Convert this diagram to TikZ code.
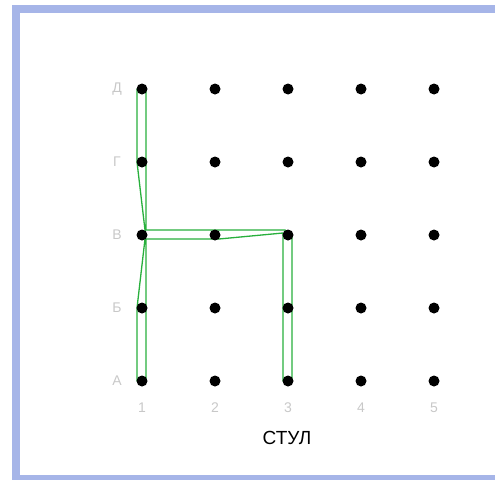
\documentclass[tikz,border=0pt]{standalone}
\usepackage{fontspec}
\setmainfont{Liberation Sans}
\definecolor{framec}{RGB}{166,181,232}
\definecolor{labc}{RGB}{200,200,200}
\definecolor{chairc}{RGB}{40,175,60}
\begin{document}
\begin{tikzpicture}[x=1pt,y=-1pt,
  dotn/.style={circle,fill=black,inner sep=0pt,minimum size=11pt},
  lab/.style={text=labc,font=\fontsize{14}{16}\selectfont,inner sep=0pt},
  chair/.style={draw=chairc,line width=1.3pt,line join=round}]
\useasboundingbox (0,0) rectangle (495,479);
\clip (0,0) rectangle (495,479);
\draw[framec,line width=8pt] (16,9) rectangle (515,479);
% green chair outline
\draw[chair] (137,89) -- (146,89) -- (146,230) -- (285,230) -- (292,235) -- (292,381)
  -- (283,381) -- (283,233) -- (219,239) -- (146,239) -- (146,381) -- (137,381)
  -- (137,308) -- (145,239) -- (145,230) -- (137,162) -- cycle;
% dots
\foreach \c [count=\i] in {142,215,288,361,434}{
  \foreach \r [count=\j] in {381,308,235,162,89}{
    \node[dotn] (p\i\j) at (\c,\r) {};
  }
}
% row labels
\foreach \t [count=\j] in {А,Б,В,Г,Д}{
  \node[lab] (r\j) at (117,{381-73*(\j-1)}) {\t};
}
% column labels
\foreach \c [count=\i] in {142,215,288,361,434}{
  \node[lab] (c\i) at (\c,408) {\i};
}
\node[font=\fontsize{19}{22}\selectfont,inner sep=0pt] (title) at (287,438) {СТУЛ};
\end{tikzpicture}
\end{document}
